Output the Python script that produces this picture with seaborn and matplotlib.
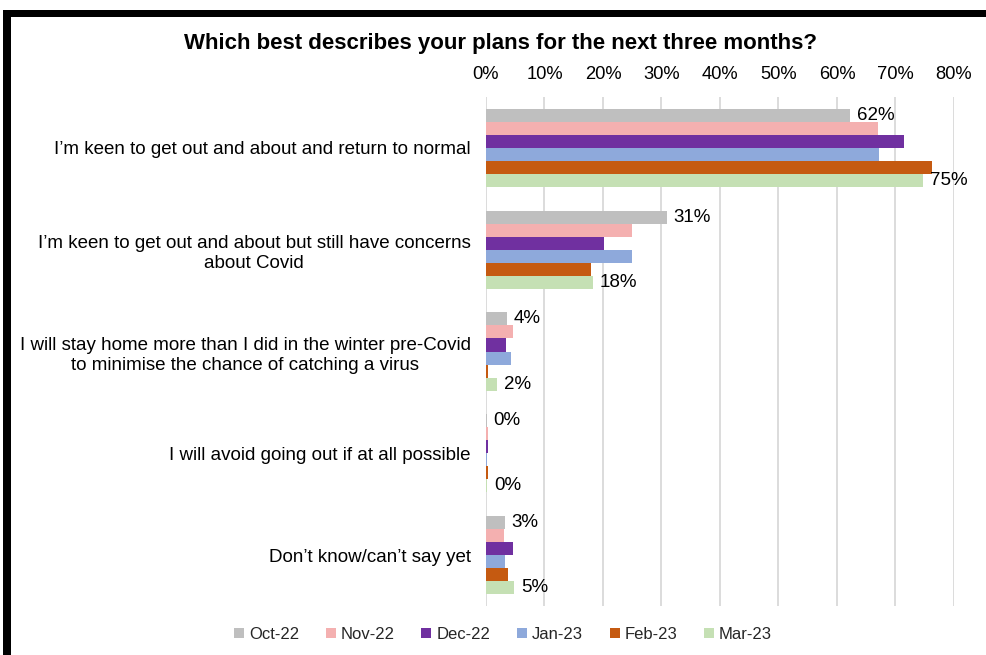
import matplotlib
matplotlib.use("Agg")
import matplotlib.pyplot as plt
import matplotlib.patches as mpatches
from matplotlib.ticker import PercentFormatter, FixedLocator
import seaborn as sns
import pandas as pd

categories = [
    "I\u2019m keen to get out and about and return to normal",
    "I\u2019m keen to get out and about but still have concerns\nabout Covid",
    "I will stay home more than I did in the winter pre-Covid\nto minimise the chance of catching a virus",
    "I will avoid going out if at all possible",
    "Don\u2019t know/can\u2019t say yet",
]
months = ["Oct-22", "Nov-22", "Dec-22", "Jan-23", "Feb-23", "Mar-23"]
oct22 = [0.622, 0.309, 0.036, 0.001, 0.032]
nov22 = [0.670, 0.250, 0.046, 0.003, 0.031]
dec22 = [0.715, 0.202, 0.034, 0.003, 0.046]
jan23 = [0.672, 0.250, 0.043, 0.002, 0.033]
feb23 = [0.762, 0.180, 0.004, 0.004, 0.038]
mar23 = [0.747, 0.183, 0.019, 0.002, 0.048]
colors = ["#BFBFBF", "#F4B0B0", "#7030A0", "#8EA9DB", "#C55A11", "#C5E0B4"]
x_ticks = [0, 0.1, 0.2, 0.3, 0.4, 0.5, 0.6, 0.7, 0.8]

series = [oct22, nov22, dec22, jan23, feb23, mar23]
rows = []
for m, vals in zip(months, series):
    for c, v in zip(categories, vals):
        rows.append({"cat": c, "month": m, "value": v})
df = pd.DataFrame(rows)

sns.set_theme(style="white")
plt.rcParams["font.family"] = ["Liberation Sans", "DejaVu Sans"]

fig = plt.figure(figsize=(9.87, 6.55), dpi=100)
ax = fig.add_axes([486 / 987, 1 - 606 / 655, (954 - 486) / 987, (606 - 97) / 655])

sns.barplot(data=df, y="cat", x="value", hue="month", order=categories,
            hue_order=months, palette=colors, orient="h", width=0.77,
            saturation=1, linewidth=0, ax=ax)

ax.set_xlim(0, 0.8)
ax.xaxis.set_major_locator(FixedLocator(x_ticks))
ax.xaxis.set_major_formatter(PercentFormatter(1.0, decimals=0))
ax.xaxis.tick_top()
ax.tick_params(axis="x", length=0, labelsize=13.2, colors="#000000", pad=10)
ax.tick_params(axis="y", length=0, labelsize=13.5, colors="#000000", pad=11)
for lab in ax.get_yticklabels():
    lab.set_multialignment("center")
    lab.set_linespacing(1.28)
ax.set_xlabel("")
ax.set_ylabel("")
ax.grid(axis="x", color="#D9D9D9", linewidth=1.3)
ax.set_axisbelow(True)
for s in ax.spines.values():
    s.set_visible(False)

for idx in (0, 5):
    cont = ax.containers[idx]
    ax.bar_label(cont, labels=[f"{v*100:.0f}%" for v in series[idx]],
                 padding=5, fontsize=13.5, color="#000000")

leg = ax.legend(loc="upper center", ncol=6, frameon=False,
                fontsize=12, handlelength=0.6, handleheight=0.6,
                handletextpad=0.3, columnspacing=1.6)
leg.set_bbox_to_anchor((503 / 987, 1 - 612 / 655), transform=fig.transFigure)

fig.text(500 / 987, 1 - 43 / 655, "Which best describes your plans for the next three months?",
         ha="center", va="center", fontsize=16, fontweight="bold", color="#000000")

# frame border (top and left)
fig.add_artist(mpatches.Rectangle((3 / 987, 1 - 17 / 655), 1, 7 / 655,
                                  transform=fig.transFigure, color="black", lw=0))
fig.add_artist(mpatches.Rectangle((3 / 987, 0), 8 / 987, 1 - 10 / 655,
                                  transform=fig.transFigure, color="black", lw=0))

fig.savefig("out.png", dpi=100)
